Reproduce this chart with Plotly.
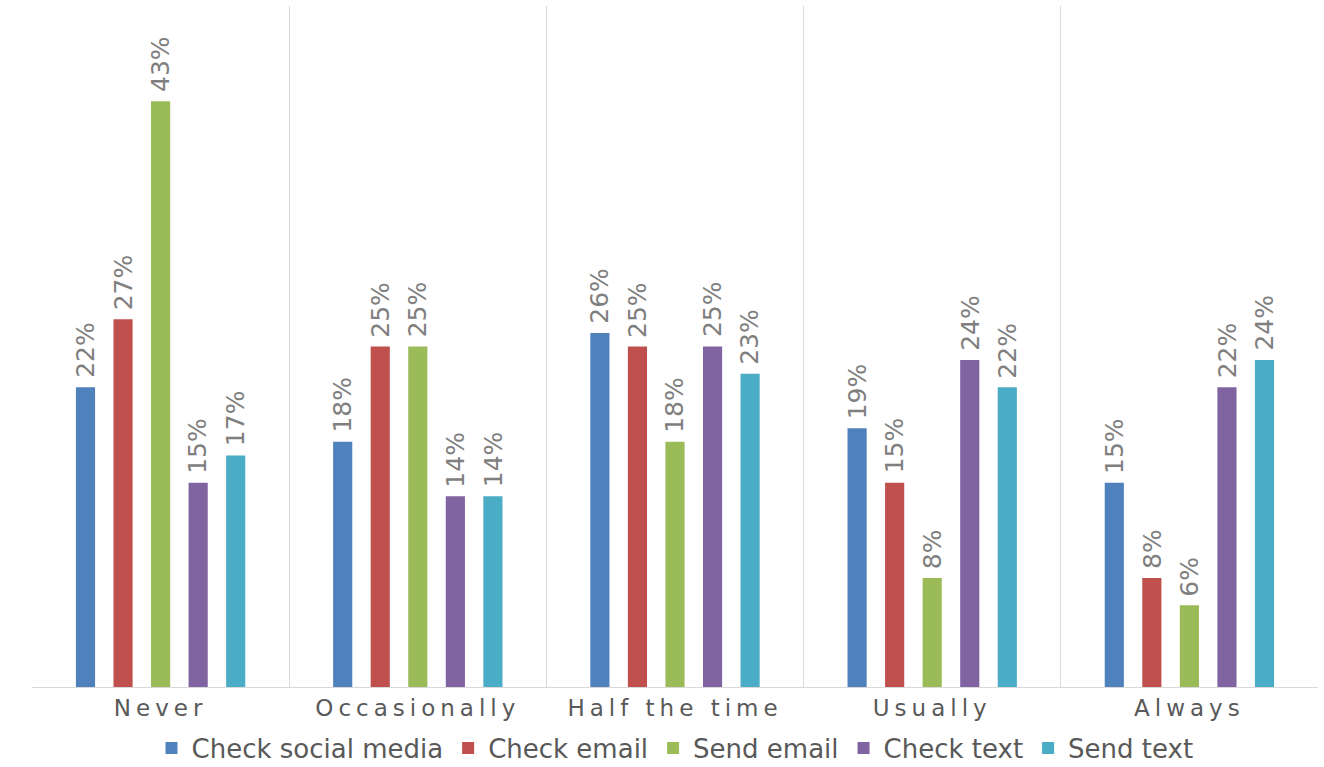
import plotly.graph_objects as go

categories = ["Never", "Occasionally", "Half the time", "Usually", "Always"]
series_names = ["Check social media", "Check email", "Send email", "Check text", "Send text"]
check_social_media = [22, 18, 26, 19, 15]
check_email = [27, 25, 25, 15, 8]
send_email = [43, 25, 18, 8, 6]
check_text = [15, 14, 25, 24, 22]
send_text = [17, 14, 23, 22, 24]

series_values = [check_social_media, check_email, send_email, check_text, send_text]
colors = ["#4F81BD", "#C0504D", "#9BBB59", "#8064A2", "#4BACC6"]

font_family = "DejaVu Sans, Verdana, sans-serif"
bargap = 0.27
n_series = len(series_names)
slot = (1 - bargap) / n_series  # width of one bar slot in category units

fig = go.Figure()
for name, values, color in zip(series_names, series_values, colors):
    fig.add_trace(go.Bar(
        name=name,
        x=categories,
        y=values,
        marker=dict(color=color, line=dict(width=0)),
    ))

# Rotated value labels sitting a little above each bar
annotations = []
for i, values in enumerate(series_values):
    for j, v in enumerate(values):
        annotations.append(dict(
            x=j + (i - (n_series - 1) / 2) * slot,
            y=v,
            xref="x",
            yref="y",
            text=f"{v}%",
            textangle=-90,
            showarrow=False,
            xanchor="center",
            yanchor="bottom",
            yshift=7,
            font=dict(family=font_family, size=25, color="#7f7f7f"),
        ))

fig.update_layout(
    width=1324,
    height=767,
    margin=dict(l=32, r=6, t=6, b=80, autoexpand=False),
    paper_bgcolor="white",
    plot_bgcolor="white",
    barmode="group",
    bargap=bargap,
    bargroupgap=0.49,
    font=dict(family=font_family, color="#595959"),
    annotations=annotations,
    xaxis=dict(
        type="category",
        tickson="boundaries",
        showgrid=True,
        gridcolor="#d9d9d9",
        gridwidth=1,
        showline=True,
        linecolor="#d9d9d9",
        linewidth=1,
        ticks="",
        tickfont=dict(family=font_family, size=23, color="#595959"),
    ),
    yaxis=dict(
        range=[0, 50],
        showgrid=False,
        zeroline=False,
        showticklabels=False,
        showline=False,
    ),
    legend=dict(
        orientation="h",
        x=0.5,
        xanchor="center",
        y=-0.0896,
        yanchor="middle",
        font=dict(family=font_family, size=26, color="#595959"),
        itemwidth=30,
        tracegroupgap=0,
    ),
)

post_js = """
document.querySelectorAll('.xtick text').forEach(function(t){
  t.style.letterSpacing = '5px';
});
"""

fig.write_html("out.html", post_script=post_js)
